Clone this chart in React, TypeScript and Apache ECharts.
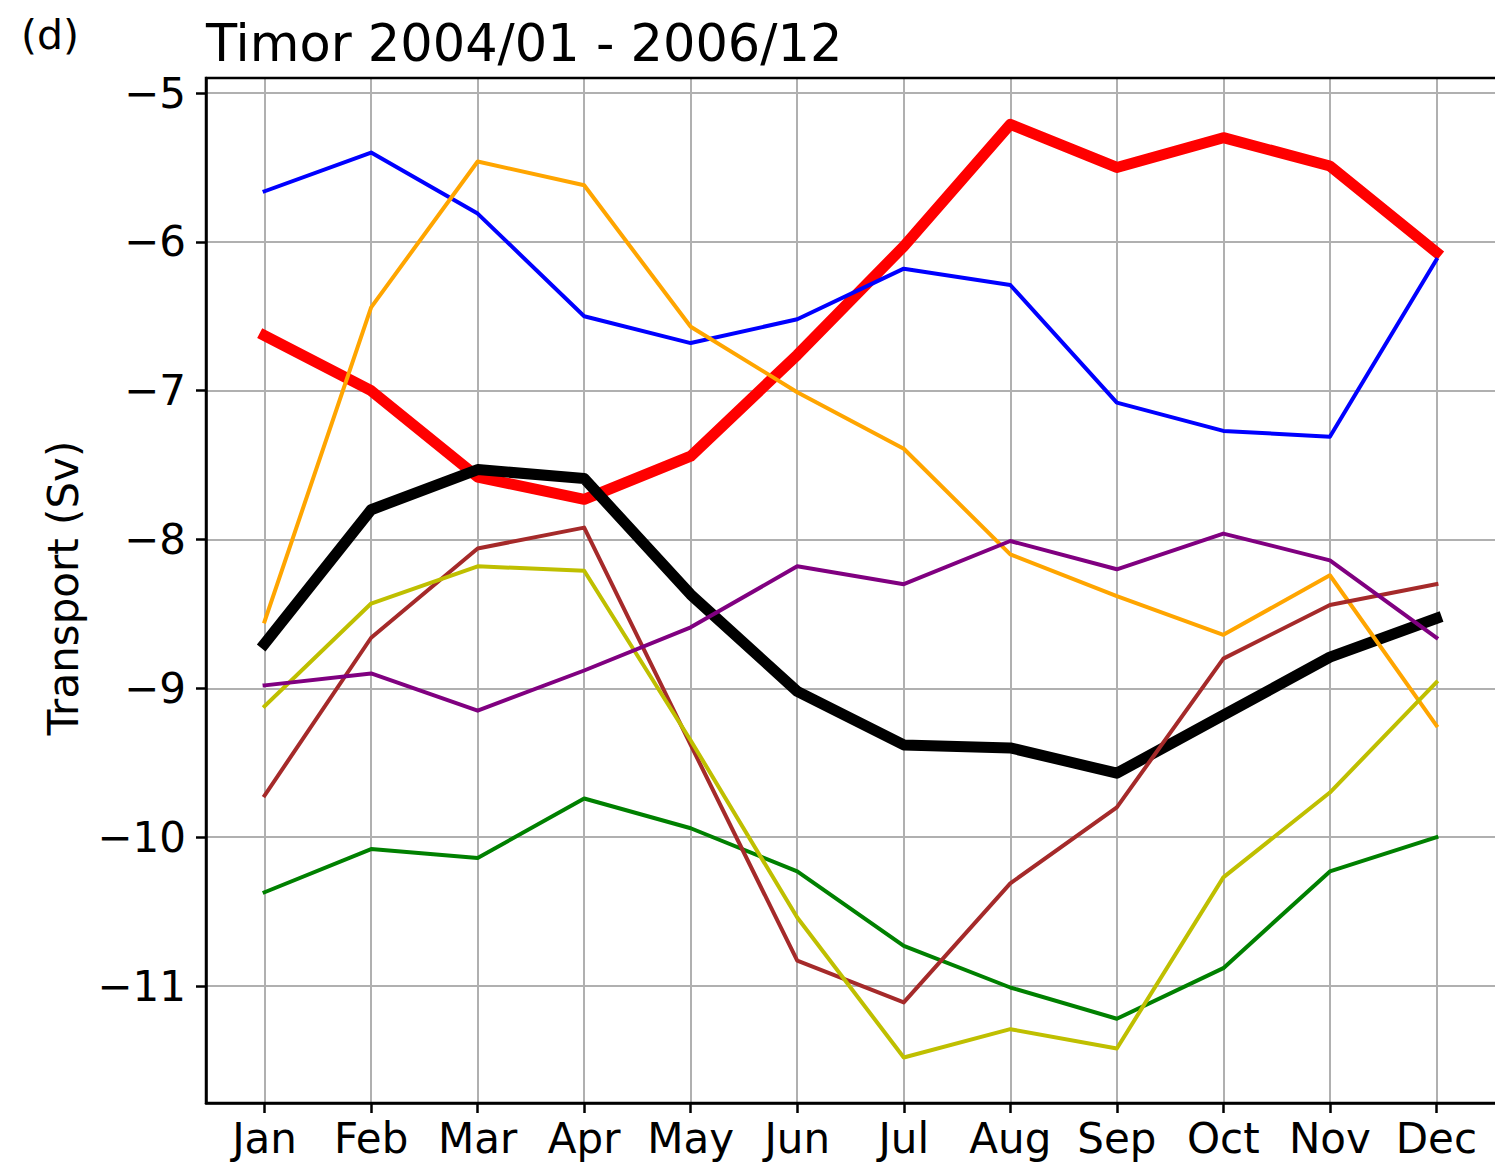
import React, { useEffect, useRef } from "react";
import * as echarts from "echarts";

const MONTHS = ["Jan", "Feb", "Mar", "Apr", "May", "Jun", "Jul", "Aug", "Sep", "Oct", "Nov", "Dec"];
const X_TICKS = [0, 1, 2, 3, 4, 5, 6, 7, 8, 9, 10, 11];
const Y_TICKS = [-11, -10, -9, -8, -7, -6, -5];

const redValues = [-6.63, -7.0, -7.58, -7.73, -7.44, -6.76, -6.03, -5.21, -5.5, -5.3, -5.49, -6.07];
const blackValues = [-8.7, -7.8, -7.53, -7.59, -8.37, -9.02, -9.38, -9.4, -9.57, -9.18, -8.79, -8.53];
const blueValues = [-5.66, -5.4, -5.81, -6.5, -6.68, -6.52, -6.18, -6.29, -7.08, -7.27, -7.31, -6.12];
const orangeValues = [-8.55, -6.44, -5.46, -5.62, -6.57, -7.01, -7.39, -8.1, -8.38, -8.64, -8.24, -9.25];
const greenValues = [-10.37, -10.08, -10.14, -9.74, -9.94, -10.23, -10.73, -11.01, -11.22, -10.88, -10.23, -10.0];
const brownValues = [-9.72, -8.66, -8.06, -7.92, -9.38, -10.83, -11.11, -10.31, -9.8, -8.8, -8.44, -8.3];
const yellowValues = [-9.12, -8.43, -8.18, -8.21, -9.35, -10.54, -11.48, -11.29, -11.42, -10.27, -9.7, -8.96];
const purpleValues = [-8.98, -8.9, -9.15, -8.88, -8.59, -8.18, -8.3, -8.01, -8.2, -7.96, -8.14, -8.66];

const TITLE = "Timor 2004/01 - 2006/12";
const PANEL = "(d)";
const Y_NAME = "Transport (Sv)";

const FONT = "DejaVu Sans";

export default function App() {
  const ref = useRef<HTMLDivElement>(null);
  useEffect(() => {
    if (!ref.current) return;
    const chart = echarts.init(ref.current, null, { renderer: "svg" });
    const mk = (name: string, data: number[], color: string, width: number) => ({
      name,
      type: "line",
      data: data.map((v, i) => [i, v]),
      showSymbol: false,
      symbol: "none",
      lineStyle: { color, width, cap: "square", join: "round" },
      itemStyle: { color },
      silent: true,
    });
    const isInt = (v: number) => Math.abs(v - Math.round(v)) < 1e-6;
    const GL = 206, GT = 78, GW = 1291, GH = 1025;
    chart.setOption({
      animation: false,
      backgroundColor: "#ffffff",
      textStyle: { fontFamily: FONT },
      grid: {
        left: GL,
        top: GT,
        width: GW,
        height: GH,
        show: false,
        containLabel: false,
      },
      xAxis: {
        type: "value",
        min: -0.55,
        max: 11.55,
        splitNumber: 12,
        axisLine: { show: true, onZero: false, lineStyle: { color: "#000", width: 2.5 } },
        axisTick: { show: true, length: 10, customValues: X_TICKS, lineStyle: { color: "#000", width: 2.5 } },
        axisLabel: {
          show: true,
          fontFamily: FONT,
          fontSize: 42,
          color: "#000",
          margin: 14,
          customValues: X_TICKS,
          formatter: (v: number) => (isInt(v) && v >= 0 && v <= 11 ? MONTHS[Math.round(v)] : ""),
        },
        splitLine: { show: true, lineStyle: { color: "#b0b0b0", width: 2 } },
      },
      yAxis: {
        type: "value",
        min: -11.786,
        max: -4.899,
        splitNumber: 5,
        axisLine: { show: true, onZero: false, lineStyle: { color: "#000", width: 2.5 } },
        axisTick: { show: true, length: 10, customValues: Y_TICKS, lineStyle: { color: "#000", width: 2.5 } },
        axisLabel: {
          show: true,
          fontFamily: FONT,
          fontSize: 42,
          color: "#000",
          margin: 20,
          customValues: Y_TICKS,
          formatter: (v: number) =>
            isInt(v) ? (Math.round(v) < 0 ? "\u2212" + Math.abs(Math.round(v)) : String(Math.round(v))) : "",
        },
        splitLine: { show: true, lineStyle: { color: "#b0b0b0", width: 2 } },
      },
      series: [
        mk("red", redValues, "#ff0000", 11),
        mk("black", blackValues, "#000000", 11),
        mk("blue", blueValues, "#0000ff", 4),
        mk("orange", orangeValues, "#ffa500", 4),
        mk("green", greenValues, "#008000", 4),
        mk("brown", brownValues, "#a52a2a", 4),
        mk("yellow", yellowValues, "#bfbf00", 4),
        mk("purple", purpleValues, "#800080", 4),
      ],
      graphic: [
        {
          type: "rect",
          shape: { x: GL, y: GT, width: GW, height: GH },
          style: { fill: "none", stroke: "#000", lineWidth: 2.5 },
          z: 100,
          silent: true,
        },
        {
          type: "text",
          left: 206,
          top: 18,
          style: { text: TITLE, font: `51px '${FONT}'`, fill: "#000" },
        },
        {
          type: "text",
          left: 21,
          top: 14,
          style: { text: PANEL, font: `41px '${FONT}'`, fill: "#000" },
        },
        {
          type: "text",
          x: 63,
          y: 588,
          rotation: Math.PI / 2,
          style: {
            text: Y_NAME,
            font: `42px '${FONT}'`,
            fill: "#000",
            align: "center",
            verticalAlign: "middle",
          },
        },
      ],
    });
    return () => chart.dispose();
  }, []);
  return <div ref={ref} style={{ width: 1495, height: 1166, position: "absolute", left: 0, top: 0 }} />;
}
